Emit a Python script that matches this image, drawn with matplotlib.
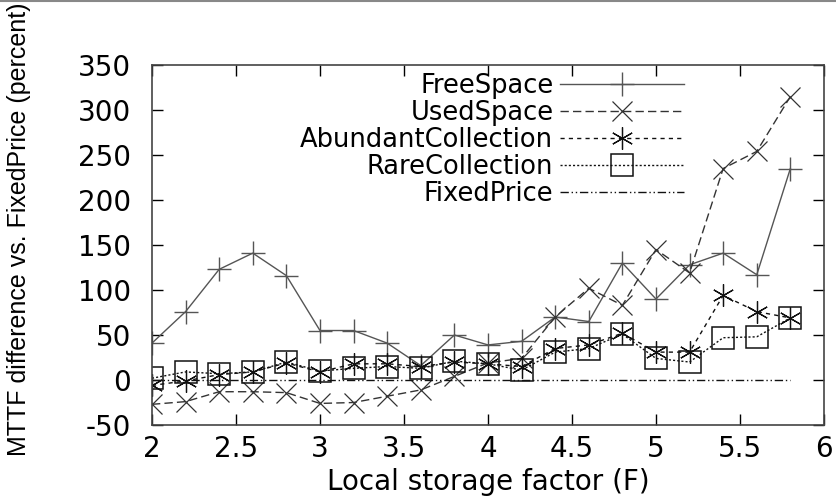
import matplotlib
matplotlib.use("Agg")
import matplotlib.pyplot as plt
from matplotlib.lines import Line2D

plt.rcParams["font.family"] = ["DejaVu Sans"]
plt.rcParams["axes.unicode_minus"] = False

# 로컬 저장 인수 F
factor = [2.0, 2.2, 2.4, 2.6, 2.8, 3.0, 3.2, 3.4, 3.6, 3.8,
          4.0, 4.2, 4.4, 4.6, 4.8, 5.0, 5.2, 5.4, 5.6, 5.8]

free_space = [41, 76, 123, 141, 116, 55, 55, 41, 16, 50,
              39, 43, 70, 65, 130, 90, 128, 141, 117, 235]
used_space = [-27, -24, -13, -13, -14, -26, -25, -18, -11, 4,
              19, 24, 70, 102, 83, 145, 119, 235, 254, 315]
abundant = [-6, -1, 6, 9, 19, 9, 18, 18, 15, 20,
            18, 15, 35, 39, 52, 31, 31, 94, 76, 69]
rare = [2, 9, 7, 9, 20, 10, 13, 15, 13, 21,
        18, 11, 31, 35, 51, 24, 20, 47, 48, 69]
fixed = [0] * len(factor)

x_ticks = [2, 2.5, 3, 3.5, 4, 4.5, 5, 5.5, 6]
y_ticks = [-50, 0, 50, 100, 150, 200, 250, 300, 350]

fs = 20

fig = plt.figure(figsize=(8.36, 5.04), dpi=100)
ax = fig.add_axes([0.1818, 0.1567, 0.8038, 0.7143])

lw = 1.0
ax.plot(factor, free_space, color="#555555", lw=lw, ls="-",
        marker="+", ms=17, mew=1.0, label="FreeSpace")
ax.plot(factor, used_space, color="#333333", lw=lw, ls=(0, (6, 3)),
        marker="x", ms=15, mew=0.9, label="UsedSpace")
ax.plot(factor, abundant, color="#111111", lw=lw, ls=(0, (3, 3)),
        marker=(6, 2, 0), ms=16, mew=0.9, label="AbundantCollection")
ax.plot(factor, rare, color="#111111", lw=lw, ls=(0, (1.5, 1.5)),
        marker="s", ms=16, mfc="none", mew=1.1, label="RareCollection")
ax.plot(factor, fixed, color="#111111", lw=lw, ls=(0, (6, 2, 1, 2, 1, 2)),
        label="FixedPrice")

ax.set_xlim(2, 6)
ax.set_ylim(-50, 350)
ax.set_xticks(x_ticks)
ax.set_xticklabels([f"{t:g}" for t in x_ticks])
ax.set_yticks(y_ticks)
ax.tick_params(direction="in", length=8, width=1, top=True, right=True,
               labelsize=fs)
ax.tick_params(axis="x", pad=7)
ax.tick_params(axis="y", pad=15)
for s in ax.spines.values():
    s.set_color("#444444")
    s.set_linewidth(1.2)

# 축 라벨은 위치를 직접...
ax.set_xlabel("Local storage factor (F)", fontsize=fs, labelpad=4)
fig.text(0.008, 0.546, "MTTF difference vs. FixedPrice (percent)",
         rotation=90, ha="left", va="center", fontsize=18,
         family=["Liberation Sans", "DejaVu Sans"])

# 범례 - 글자 겹치지 않게 간격 0 근처로
leg = ax.legend(loc="upper right", bbox_to_anchor=(0.792, 0.979), frameon=False,
                fontsize=18.5, markerfirst=False, handlelength=4.82,
                handletextpad=0.27, labelspacing=0.04, borderpad=0,
                borderaxespad=0)
for t in leg.get_texts():
    t.set_ha("right")
leg._legend_box.align = "right"

# 맨 위 회색 테두리
fig.add_artist(Line2D([0, 1], [0.998, 0.998], transform=fig.transFigure,
                      color="#888888", lw=1.5))

fig.savefig("out.png", dpi=100)
